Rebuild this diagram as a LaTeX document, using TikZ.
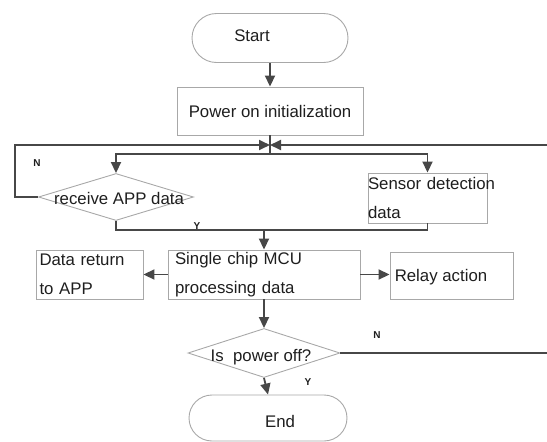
\documentclass[tikz,border=0pt]{standalone}
\usepackage{fontspec}
\setmainfont{Liberation Sans}
\usetikzlibrary{arrows.meta,shapes.geometric,shapes.misc}

\definecolor{linegray}{HTML}{474747}
\definecolor{boxgray}{HTML}{A8A8A8}
\definecolor{inkgray}{HTML}{1E1E1E}

\tikzset{
  term/.style={rounded rectangle, draw=boxgray, line width=0.9pt, inner sep=0pt},
  procbox/.style={rectangle, draw=boxgray, line width=0.9pt, inner sep=0pt},
  decide/.style={diamond, draw=boxgray, line width=0.9pt, inner sep=0pt},
  txt/.style={text=inkgray, font=\fontsize{16.8}{20}\selectfont},
  yn/.style={text=inkgray, font=\fontsize{10}{11}\selectfont\bfseries},
  flow/.style={draw=linegray, line width=1.8pt},
  arr/.style={flow, -{Triangle[length=11pt, width=10pt]}}
}

\begin{document}
\begin{tikzpicture}[x=1pt,y=-1pt]
\useasboundingbox (0,0) rectangle (547,442);
% nodes
\node[term, minimum width=156pt, minimum height=49pt] (start) at (270,38) {};
\node[txt] (starttxt) at (252,36) {Start};
\node[procbox, txt, minimum width=186pt, minimum height=48pt] (power) at (270,111) {Power on initialization};
\node[decide, minimum width=155pt, minimum height=47pt] (recv) at (116,197) {};
\node[txt] (recvtxt) at (119,198) {receive APP data};
\node[procbox, txt, text width=119pt, minimum height=50pt, align=left, inner ysep=2pt] (sensor) at (427.5,198)
  {\mbox{Sensor detection}\\[9pt]data};
\node[procbox, txt, text width=178pt, inner xsep=7pt, minimum height=49pt, align=left] (mcu) at (264,274.5)
  {Single chip MCU\\[9pt]processing data};
\node[procbox, txt, text width=100pt, inner xsep=0pt, minimum width=107pt, minimum height=49pt, align=left] (dret) at (89.5,274.5)
  {Data return\\[9pt]to APP};
\node[procbox, minimum width=123pt, minimum height=47pt] (relay) at (451.5,275.5) {};
\node[txt] (relaytxt) at (441,277) {Relay action};
\node[decide, minimum width=152pt, minimum height=49pt] (off) at (264,353) {};
\node[txt] (offtxt) at (261,357) {Is\ \ power off?};
\node[term, minimum width=158pt, minimum height=46pt] (end) at (268,418) {};
\node[txt] (endtxt) at (280,421) {End};
\node[yn] (nrecv) at (37,163) {N};
\node[yn] (yrecv) at (197,226) {Y};
\node[yn] (noff) at (377,335) {N};
\node[yn] (yoff) at (308,382) {Y};
\coordinate (jn) at (270,145);
\coordinate (split) at (270,154);
\coordinate (mrg) at (264,230);
\coordinate (redge) at (549,0);

% connectors
\draw[arr] (start) -- (power);
\draw[flow] (power.south) -- (split);
\draw[arr] (split) -| (recv.north);
\draw[arr] (split) -| (sensor.north);
\draw[arr] (recv.west) -- ++(-23,0) |- (jn);
\draw[arr] (off.east) -- (off.east -| redge) |- (jn);
\draw[flow] (recv.south) |- (mrg);
\draw[flow] (sensor.south) |- (mrg);
\draw[arr] (mrg) -- (mcu.north);
\draw[arr] (mcu.west) -- (dret.east);
\draw[arr] (mcu.east) -- (relay.west |- mcu.east);
\draw[arr] (mcu.south) -- (off.north);
\draw[arr] (off.south) -- (end.north);
\end{tikzpicture}
\end{document}
